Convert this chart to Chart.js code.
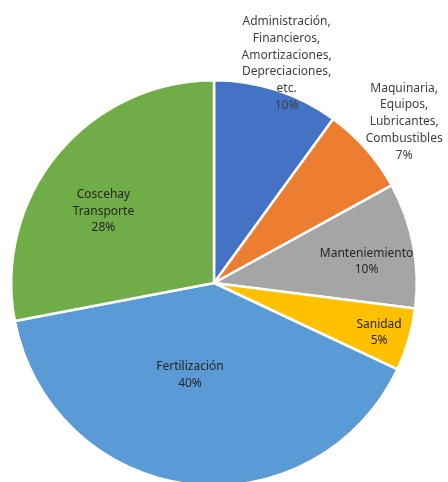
<!DOCTYPE html>
<html>
<head>
<meta charset="utf-8">
<script src="https://cdn.jsdelivr.net/npm/chart.js@4.4.1/dist/chart.umd.min.js"></script>
<style>
  html, body { margin: 0; padding: 0; background: #fff; overflow: hidden; }
  #wrap { width: 448px; height: 490px; }
</style>
</head>
<body>
<div id="wrap"><canvas id="pie" width="448" height="490"></canvas></div>
<script>
// categories (multi-line, as shown on the chart)
var categories = [
    ['Administración,', 'Financieros,', 'Amortizaciones,', 'Depreciaciones,', 'etc.'],
    ['Maquinaria,', 'Equipos,', 'Lubricantes,', 'Combustibles'],
    ['Manteniemiento'],
    ['Sanidad'],
    ['Fertilización'],
    ['Coscehay', 'Transporte']
];
var shares = [10, 7, 10, 5, 40, 28];
var colors = ['#4472C4', '#ED7D31', '#A5A5A5', '#FFC000', '#5B9BD5', '#70AD47'];

// where each label sits: fraction of radius, angle shift in degrees
var labelPlace = [[1.14, 0.3], [1.23, 1.1], [0.76, 2.8], [0.85, 0.5], [0.47, 7.4], [0.65, -6.6]];

var pieLabels = {
    id: 'pieLabels',
    afterDatasetsDraw: function(chart) {
        var ctx = chart.ctx;
        var meta = chart.getDatasetMeta(0);
        ctx.save();
        ctx.font = '12px "Noto Sans"';
        ctx.textAlign = 'center';
        ctx.textBaseline = 'middle';
        meta.data.forEach(function(arc, i) {
            var p = arc.getProps(['x', 'y', 'startAngle', 'endAngle', 'outerRadius'], true);
            var mid = (p.startAngle + p.endAngle) / 2 + labelPlace[i][1] * Math.PI / 180;
            var r = p.outerRadius * labelPlace[i][0];
            var cx = p.x + Math.cos(mid) * r;
            var cy = p.y + Math.sin(mid) * r;
            var lines = categories[i].concat([shares[i] + '%']);
            var lh = 16.8;
            var top = cy - (lines.length - 1) * lh / 2;
            ctx.fillStyle = labelPlace[i][0] > 1 ? '#404040' : '#262626';
            lines.forEach(function(t, k) {
                ctx.fillText(t, cx, top + k * lh);
            });
        });
        ctx.restore();
    }
};

var ctx = document.getElementById('pie').getContext('2d');
window.pieChart = new Chart(ctx, {
    type: 'pie',
    data: {
        labels: categories.map(function(c) { return c.join(' '); }),
        datasets: [{
            data: shares,
            backgroundColor: colors,
            borderColor: '#ffffff',
            borderWidth: 2.5
        }]
    },
    options: {
        responsive: false,
        animation: false,
        layout: { padding: { left: 10, right: 30, top: 79, bottom: 3 } },
        plugins: {
            legend: { display: false },
            tooltip: { enabled: false }
        }
    },
    plugins: [pieLabels]
});
</script>
</body>
</html>
